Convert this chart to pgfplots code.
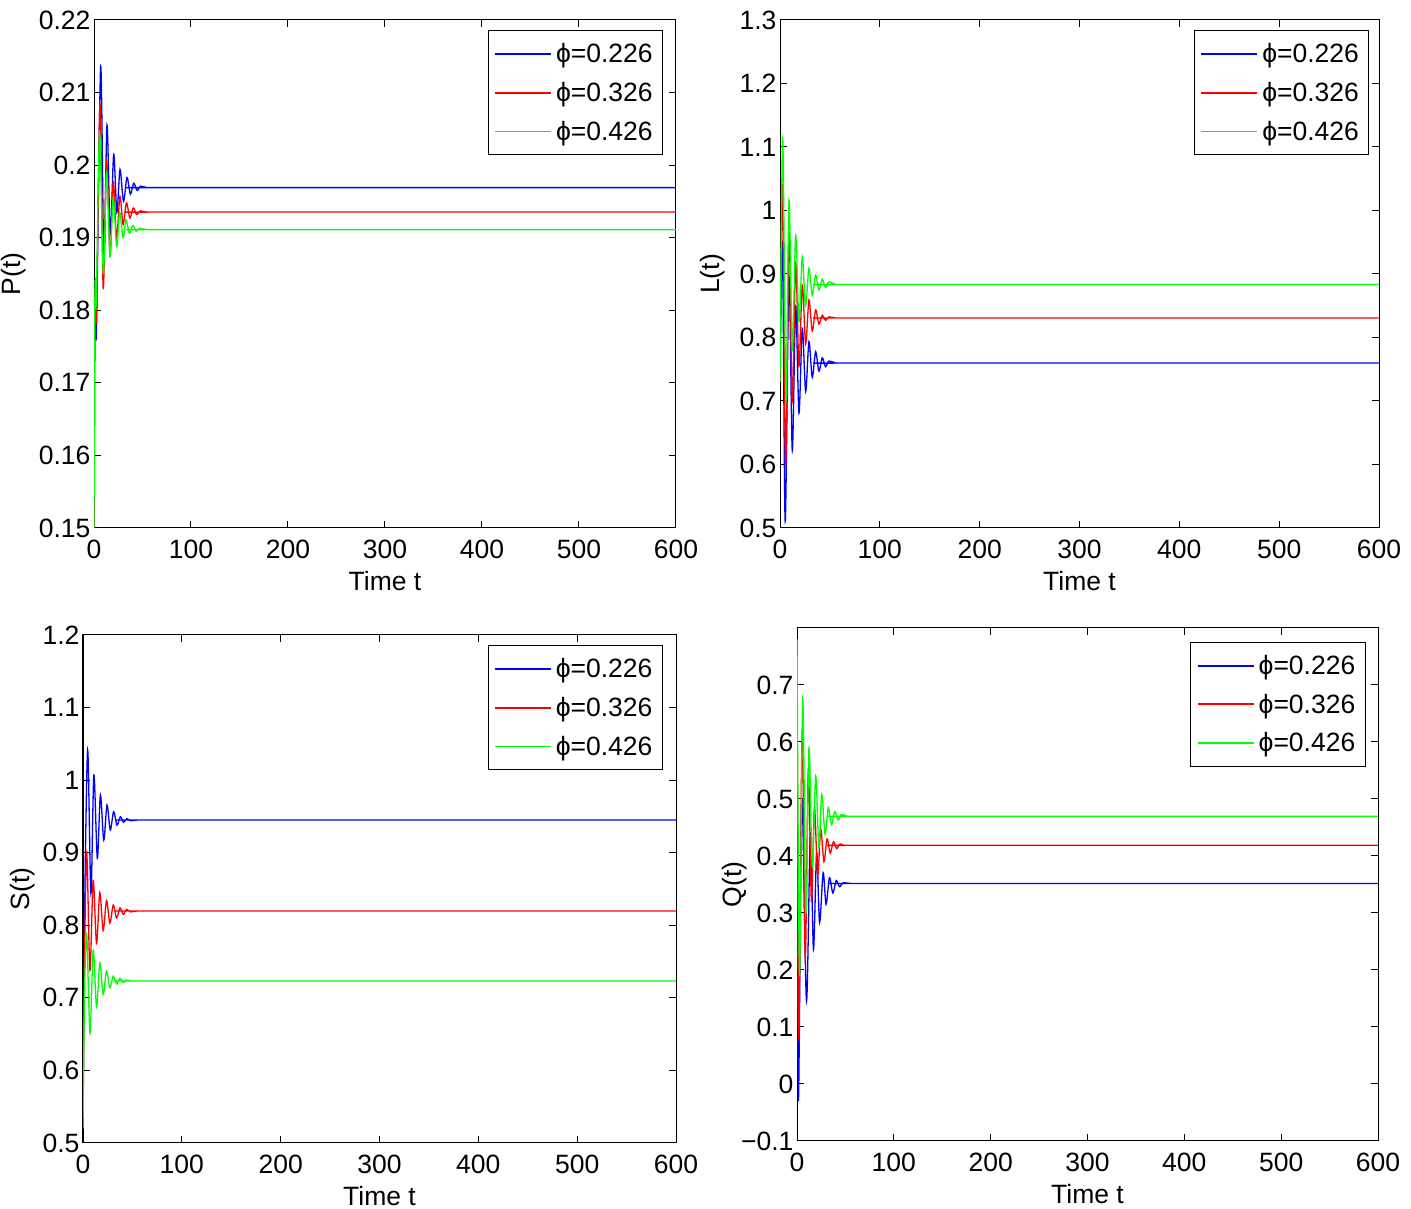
\documentclass[border=0pt]{standalone}
\usepackage{pgfplots}
\pgfplotsset{compat=1.18}
\usepackage{fontspec}
\setmainfont{Liberation Sans}
\newcommand\fsz{\fontsize{26.5}{31}\selectfont}
\pgfplotsset{
  mystyle/.style={
    scale only axis,
    xmin=0, xmax=600, xtick={0,100,...,600},
    tick align=inside, tick pos=both, major tick length=7pt,
    ticklabel style={font=\fsz},
    label style={font=\fsz},
    xlabel={Time t},
    xticklabel style={yshift=-8pt},
    xlabel style={yshift=-6pt},
    /pgf/number format/assume math mode=true,
    /pgf/number format/fixed,
    axis line style={line width=1pt},
    every tick/.style={line width=1pt, black},
    legend style={font=\fsz, at={(axis description cs:0.978,0.98)}, anchor=north east,
      draw=black, line width=1pt, inner xsep=6pt, inner ysep=11pt, row sep=14pt, legend cell align=left,
      nodes={inner xsep=4pt}},
    legend image code/.code={\draw[#1, line width=1.8pt] (-4pt,0pt) -- (52pt,0pt);},
    every axis plot/.append style={line width=1.3pt, smooth, tension=0.5, mark=none},
  }
}
\definecolor{mb}{rgb}{0,0,1}
\definecolor{mr}{rgb}{1,0,0}
\definecolor{mg}{rgb}{0,1,0}
\begin{document}
\begin{tikzpicture}
% Panel 1: P(t)
\begin{axis}[mystyle, at={(94pt,681pt)}, anchor=south west, width=582pt, height=508pt,
  ymin=0.15, ymax=0.22, ytick={0.15,0.16,...,0.225}, ylabel={P(t)},
  ylabel style={at={(axis description cs:-0.1375,0.5)}, anchor=center}]
\addplot[mb] coordinates {(0,0.15) (1,0.182) (2.5,0.177) (6.9,0.2136) (10.2,0.187) (13.4,0.2055) (16.8,0.1905) (20.3,0.2015) (23.6,0.1935) (26.8,0.1994) (30.4,0.1950) (34,0.1983) (37.5,0.1960) (41,0.1975) (44.5,0.1965) (48,0.1971) (55,0.1969) (70,0.1969) (600,0.1969)};
\addplot[mr] coordinates {(0,0.15) (1,0.182) (2.5,0.179) (6.2,0.2083) (9.5,0.183) (13,0.2007) (16.5,0.1875) (19.9,0.1977) (23.2,0.190) (26.8,0.1957) (30,0.1918) (33.5,0.1948) (37,0.1927) (40.5,0.1941) (44,0.1932) (48,0.1937) (55,0.1935) (70,0.19354) (600,0.19354)};
\addplot[mg] coordinates {(0,0.15) (1,0.183) (2.3,0.181) (5.8,0.2044) (9.6,0.1851) (13,0.199) (16.5,0.1874) (19.8,0.1955) (23.4,0.1888) (26.5,0.1935) (30,0.1900) (33,0.1925) (36.5,0.1906) (40,0.1917) (43.5,0.1909) (47,0.1913) (55,0.1911) (70,0.1911) (600,0.1911)};
\legend{ϕ=0.226, ϕ=0.326, ϕ=0.426}
\end{axis}
% Panel 2: L(t)
\begin{axis}[mystyle, at={(780pt,681pt)}, anchor=south west, width=599pt, height=508pt,
  ymin=0.5, ymax=1.3, ytick={0.5,0.6,...,1.35}, ylabel={L(t)},
  ylabel style={at={(axis description cs:-0.112,0.5)}, anchor=center},
  legend style={at={(axis description cs:0.984,0.98)}}]
\addplot[mb] coordinates {(0,0.73) (2.5,0.95) (5.2,0.51) (9,0.895) (12.3,0.622) (15.7,0.849) (19,0.681) (22.3,0.8145) (25.7,0.715) (29,0.7934) (32.3,0.737) (35.7,0.7777) (39,0.747) (42.3,0.768) (45.6,0.754) (49,0.763) (56,0.7598) (70,0.7598) (600,0.7598)};
\addplot[mr] coordinates {(0,0.73) (2.6,1.04) (5.6,0.60) (9,0.965) (12.3,0.70) (15.7,0.917) (19,0.755) (22.3,0.8827) (25.7,0.79) (29,0.859) (32.3,0.81) (35.7,0.8433) (39,0.821) (42.3,0.835) (45.6,0.827) (49,0.8325) (56,0.8307) (70,0.8307) (600,0.8307)};
\addplot[mg] coordinates {(0,0.73) (2.7,1.1137) (6,0.70) (9,1.0165) (12.3,0.78) (15.7,0.961) (19,0.825) (22.3,0.927) (25.6,0.85) (29,0.909) (32.3,0.866) (35.7,0.8984) (39,0.875) (42.3,0.8916) (45.6,0.879) (49,0.8875) (56,0.8835) (70,0.8835) (600,0.8835)};
\legend{ϕ=0.226, ϕ=0.326, ϕ=0.426}
\end{axis}
% Panel 3: S(t)
\begin{axis}[mystyle, at={(83pt,66pt)}, anchor=south west, width=593pt, height=508pt,
  ymin=0.5, ymax=1.2, ytick={0.5,0.6,...,1.25}, ylabel={S(t)},
  ylabel style={at={(axis description cs:-0.101,0.5)}, anchor=center}]
\addplot[mb] coordinates {(0,0.52) (1.5,0.80) (4.7,1.0415) (8,0.844) (11,1.007) (14.5,0.8923) (17.6,0.9795) (21,0.9175) (24.3,0.9657) (27.6,0.9313) (31,0.9565) (34.4,0.938) (37.8,0.9496) (41,0.942) (44.5,0.947) (48,0.944) (55,0.945) (70,0.945) (600,0.945)};
\addplot[mr] coordinates {(0,0.52) (1.5,0.75) (3.8,0.90) (7,0.738) (10.3,0.862) (13.7,0.775) (17,0.845) (20.4,0.793) (23.8,0.834) (27.2,0.803) (30.6,0.828) (34,0.810) (37.4,0.824) (40.8,0.815) (44.2,0.822) (48,0.8185) (55,0.8197) (70,0.8197) (600,0.8197)};
\addplot[mg] coordinates {(0,0.52) (1.5,0.70) (3.7,0.789) (7.1,0.651) (10.3,0.766) (13.7,0.688) (17,0.748) (20.4,0.705) (23.8,0.737) (27.2,0.714) (30.6,0.730) (34,0.719) (37.4,0.727) (40.8,0.721) (44.2,0.7245) (50,0.7232) (70,0.7232) (600,0.7232)};
\legend{ϕ=0.226, ϕ=0.326, ϕ=0.426}
\end{axis}
% Panel 4: Q(t)
\begin{axis}[mystyle, at={(797pt,68pt)}, anchor=south west, width=581pt, height=513pt,
  ymin=-0.1, ymax=0.8, ytick={-0.1,0,0.1,0.2,0.3,0.4,0.5,0.6,0.7},
  yticklabels={−0.1,0,0.1,0.2,0.3,0.4,0.5,0.6,0.7}, ylabel={Q(t)},
  ylabel style={at={(axis description cs:-0.107,0.5)}, anchor=center},
  legend style={at={(axis description cs:0.979,0.973)}}]
\addplot[mb] coordinates {(0,0.78) (1.4,-0.028) (5,0.50) (9.8,0.145) (13.8,0.441) (17,0.236) (20.3,0.406) (23.3,0.283) (27,0.3707) (30,0.315) (33.5,0.362) (37,0.335) (40.5,0.357) (44,0.346) (47.5,0.353) (55,0.3519) (70,0.3519) (600,0.3519)};
\addplot[mr] coordinates {(0,0.78) (1.8,0.08) (5.3,0.62) (8.5,0.22) (11.7,0.552) (14.9,0.32) (18,0.485) (21.3,0.365) (24.5,0.447) (27.8,0.39) (31,0.43) (34.3,0.405) (37.6,0.425) (41,0.413) (44.3,0.421) (50,0.4187) (70,0.4187) (600,0.4187)};
\addplot[mg] coordinates {(0,0.78) (2.6,0.19) (5.9,0.675) (9.2,0.30) (12.4,0.5905) (15.8,0.38) (19.3,0.5405) (22.6,0.415) (25.5,0.508) (29,0.438) (32.3,0.485) (35.7,0.455) (39,0.478) (42.4,0.463) (45.8,0.473) (52,0.4697) (70,0.4697) (600,0.4697)};
\legend{ϕ=0.226, ϕ=0.326, ϕ=0.426}
\end{axis}
\pgfresetboundingbox
\path[use as bounding box] (0,0) rectangle (1411pt,1209pt);
\end{tikzpicture}
\end{document}
